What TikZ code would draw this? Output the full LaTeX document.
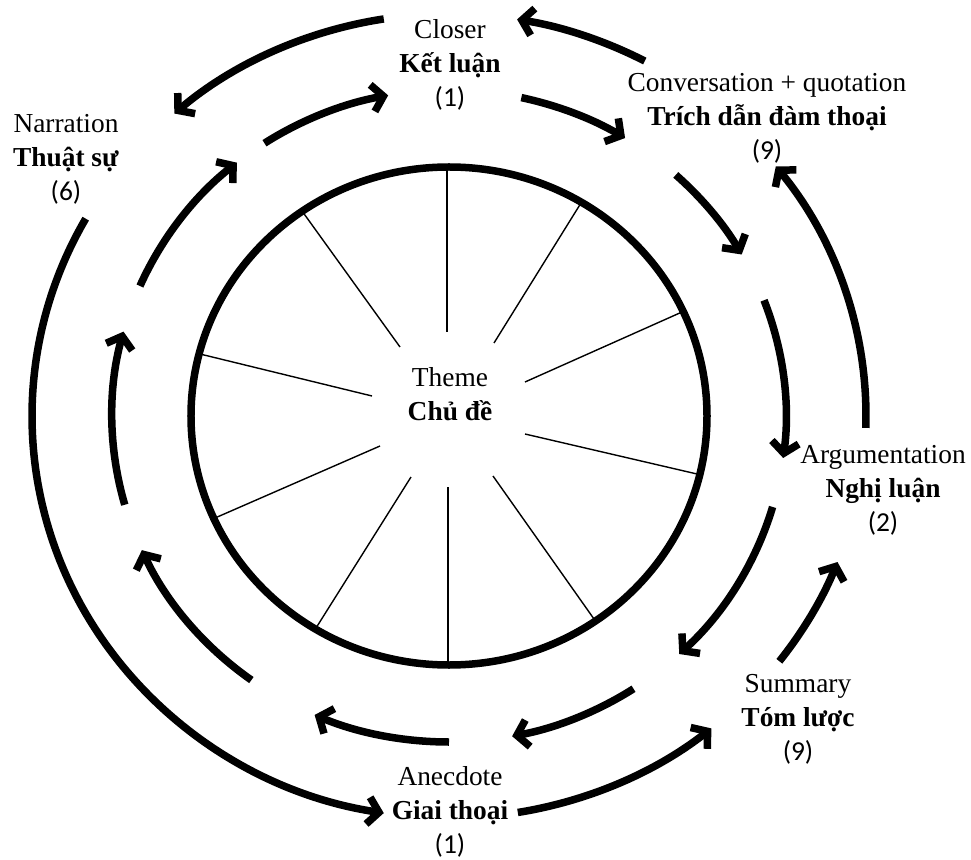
\documentclass[tikz,border=0pt]{standalone}
\usepackage{fontspec}
\setmainfont{Liberation Serif}
\newfontfamily\numfont{Carlito}
\usetikzlibrary{arrows.meta}

\begin{document}
\begin{tikzpicture}[x=1pt,y=1pt,
  lbl/.style={align=center, anchor=base, inner sep=0pt,
    font=\fontsize{27.4}{34}\selectfont},
  arr/.style={line width=7.5pt, line cap=butt,
    -{Straight Barb[length=11pt,width=27pt,sharp]}},
  rim/.style={line width=7.5pt},
  spoke/.style={line width=1.4pt}]
\useasboundingbox (-449,-443) rectangle (522,416);

% wheel centre
\coordinate (c) at (0,0);

% spokes of the wheel
\foreach \ox/\oy/\ix/\iy in {-2/252/-2/84, -147/205/-49/69, -249/62/-77/20,
    -234/-102/-69/-30, -133/-212/-38/-61, -1/-249/-1/-71, 145/-203/44/-60,
    248/-58/76/-18, 233/104/76/34, 132/213/45/73}
  \draw[spoke] (\ox,\oy) -- (\ix,\iy);

% rim of the wheel
\draw[rim] (c) ellipse [x radius=258, y radius=249];

% middle ring: clockwise flow
\foreach \a/\b in {156.5/129, 123.2/100.4, 77.6/58.5, 47.7/29.7, 20.8/-7.4,
    -16.2/-46.9, -56.8/-79.2, -90/-113.5, -125.9/-155.7, -164.2/-195}
  \draw[arr] (\a:337 and 326) arc[start angle=\a, end angle=\b,
    x radius=337, y radius=326];

% outer ring: counter-clockwise flow
\foreach \a/\b in {99/131.2, 62/80.6, -1.7/38.4, -37.6/-21.3, -80.5/-51,
    150.6/261}
  \draw[arr] (\a:417 and 402) arc[start angle=\a, end angle=\b,
    x radius=417, y radius=402];

% labels (anchored at the baseline of their last line)
\node[lbl] (theme) at (1,-4) {Theme\\\textbf{Chủ đề}};
\node[lbl] (closer) at (1,309) {Closer\\\textbf{Kết luận}\\{\numfont(1)}};
\node[lbl] (conv) at (318,256) {Conversation + quotation\\\textbf{Trích dẫn đàm thoại}\\{\numfont(9)}};
\node[lbl] (narr) at (-383,215) {Narration\\\textbf{Thuật sự}\\{\numfont(6)}};
\node[lbl] (argu) at (434,-115) {Argumentation\\\textbf{Nghị luận}\\{\numfont(2)}};
\node[lbl] (summ) at (349,-344) {Summary\\\textbf{Tóm lược}\\{\numfont(9)}};
\node[lbl] (anec) at (1,-437) {Anecdote\\\textbf{Giai thoại}\\{\numfont(1)}};
\end{tikzpicture}
\end{document}
